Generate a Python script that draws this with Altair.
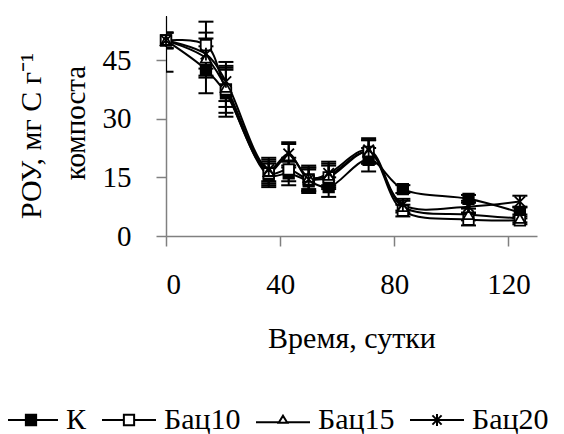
import altair as alt
import pandas as pd

days = [0, 14, 21, 36, 43, 50, 57, 71, 83, 106, 124]
series_names = ["К", "Бац10", "Бац15", "Бац20"]

k_vals = [50, 42.5, 36.5, 15.5, 16, 14, 12.5, 19.5, 12, 9.5, 6]
b10_vals = [50, 48.8, 37.5, 16, 17, 14.5, 15, 21.5, 6.5, 4.2, 4]
b15_vals = [50, 45.5, 38, 16.5, 20.5, 15, 15.5, 21.5, 7.5, 5.5, 4.5]
b20_vals = [50, 46.5, 39.5, 17, 21, 14.5, 16, 22, 8, 7.5, 8.8]

k_err = [8, 6, 6, 3, 3, 3, 2.5, 3, 1, 1, 1.5]
b10_err = [2, 6, 6, 3, 3, 3, 3, 3, 1.5, 1.5, 1]
b15_err = [2, 5, 5, 3, 3, 3, 3, 3, 1.5, 1.5, 1]
b20_err = [2, 5.5, 5, 3, 3, 3, 3, 3, 1.5, 1.5, 1.5]

x_ticks = [0, 40, 80, 120]
y_ticks = [0, 15, 30, 45]
y_title_main = ["РОУ, мг С г⁻¹"]
y_title_sub = ["компоста"]

rows = []
for name, vals, errs in zip(series_names, [k_vals, b10_vals, b15_vals, b20_vals],
                            [k_err, b10_err, b15_err, b20_err]):
    for d, v, e in zip(days, vals, errs):
        rows.append({"day": d, "series": name, "legend_series": name,
                     "value": v, "lo": v - e, "hi": v + e})
df = pd.DataFrame(rows)

FONT = "'Liberation Serif', 'Times New Roman', serif"
STAR = "M-1,-1L1,1M-1,1L1,-1M0,-1.2L0,1.2"
point_shapes = ["square", "square", "triangle-up", STAR]
point_fills = ["black", "white", "white", "white"]
legend_strokes = ["black", "black", "black", "black"]

LEG_K = "M-1,0L-0.19,0M0.19,0L1,0M-0.19,-0.19L0.19,-0.19L0.19,0.19L-0.19,0.19Z"
LEG_T = "M-1,0.08L-0.14,0.08M0.14,0.08L1,0.08M0,-0.16L0.16,0.1L-0.16,0.1Z"
LEG_S = "M-1,0L1,0M0,-0.22L0,0.22M-0.17,-0.17L0.17,0.17M-0.17,0.17L0.17,-0.17"
legend_shapes = [LEG_K, LEG_K, LEG_T, LEG_S]

axis_common = dict(grid=False, labelFont=FONT, labelFontSize=29, labelColor="black",
                   titleFont=FONT, titleFontWeight="normal", titleColor="black",
                   domainColor="#808080", domainWidth=1.5, tickColor="#808080",
                   tickWidth=1.5, tickSize=10)

x_enc = alt.X("day:Q", scale=alt.Scale(domain=[0, 130], nice=False, zero=False),
              axis=alt.Axis(values=x_ticks, title="Время, сутки", labelPadding=24,
                            titlePadding=24, titleFontSize=30, **axis_common))
y_scale = alt.Scale(domain=[0, 56.25], nice=False)
y_enc = alt.Y("value:Q", scale=y_scale,
              axis=alt.Axis(values=y_ticks, title=None, labelPadding=25, **axis_common))

base = alt.Chart(df)

lines = base.mark_line(interpolate="catmull-rom", color="black", strokeWidth=2).encode(
    x=x_enc, y=y_enc, detail="series:N")

rules = base.mark_rule(color="black", strokeWidth=2, clip=True).encode(
    x="day:Q", y=alt.Y("lo:Q", scale=y_scale), y2="hi:Q", detail="series:N")

caps_lo = base.mark_tick(orient="horizontal", color="black", size=15, thickness=2,
                         opacity=1, clip=True).encode(
    x="day:Q", y=alt.Y("lo:Q", scale=y_scale), detail="series:N")
caps_hi = base.mark_tick(orient="horizontal", color="black", size=15, thickness=2,
                         opacity=1, clip=True).encode(
    x="day:Q", y=alt.Y("hi:Q", scale=y_scale), detail="series:N")

points = base.mark_point(size=110, stroke="black", strokeWidth=1.8, opacity=1).encode(
    x="day:Q", y="value:Q",
    shape=alt.Shape("series:N", scale=alt.Scale(domain=series_names, range=point_shapes),
                    legend=None),
    fill=alt.Fill("series:N", scale=alt.Scale(domain=series_names, range=point_fills),
                  legend=None),
)

leg = alt.Legend(
    title=None, orient="none", direction="horizontal", columns=4,
    legendX=-163, legendY=376, symbolSize=2916, symbolStrokeWidth=2,
    symbolStrokeColor="black", symbolOpacity=1, labelOffset=7, columnPadding=11,
    labelFont=FONT, labelFontSize=30, labelColor="black", labelLimit=300,
    padding=0)

legend_layer = base.transform_filter("false").mark_point(
    stroke="black", strokeWidth=2, opacity=1, filled=False).encode(
    x="day:Q", y="value:Q",
    shape=alt.Shape("legend_series:N",
                    scale=alt.Scale(domain=series_names, range=legend_shapes), legend=leg),
    fill=alt.Fill("legend_series:N",
                  scale=alt.Scale(domain=series_names, range=point_fills), legend=leg),
    stroke=alt.Stroke("legend_series:N",
                      scale=alt.Scale(domain=series_names, range=legend_strokes), legend=leg),
)

title_main = alt.Chart(pd.DataFrame({"t": y_title_main})).mark_text(
    font=FONT, fontSize=30, angle=270, align="center", baseline="middle", color="black"
).encode(text="t:N", x=alt.value(-134), y=alt.value(120))

title_sub = alt.Chart(pd.DataFrame({"t": y_title_sub})).mark_text(
    font=FONT, fontSize=29, angle=270, align="center", baseline="middle", color="black"
).encode(text="t:N", x=alt.value(-90), y=alt.value(107))

chart = alt.layer(rules, caps_lo, caps_hi, lines, points, legend_layer,
                  title_main, title_sub).resolve_scale(
    shape="independent", fill="independent", stroke="independent"
).properties(
    width=371, height=220,
    autosize=alt.AutoSizeParams(type="none"),
    padding={"left": 158, "top": 8, "right": 19, "bottom": 198},
).configure(font=FONT).configure_axis(**axis_common).configure_view(
    stroke=None).configure_legend(padding=0, labelFont=FONT)

chart.save("out.html", embed_options={"renderer": "svg", "actions": False})
